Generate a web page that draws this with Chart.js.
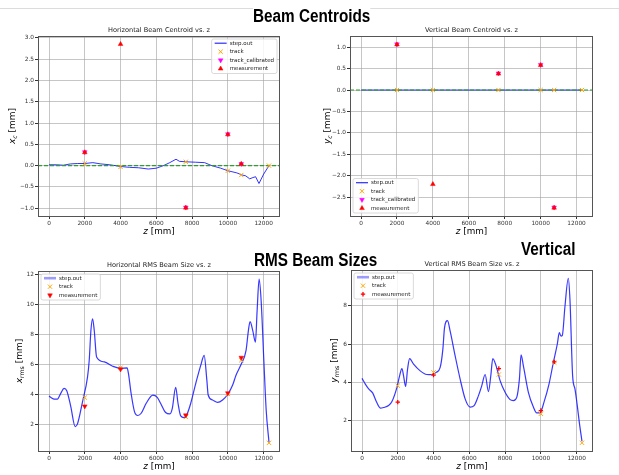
<!DOCTYPE html>
<html>
<head>
<meta charset="utf-8">
<script src="https://cdn.jsdelivr.net/npm/chart.js@4.4.0/dist/chart.umd.min.js"></script>
<style>
  html, body { margin: 0; padding: 0; background: #fff; }
  body { position: relative; width: 619px; height: 475px; overflow: hidden; }
  .rule { position: absolute; left: 0; top: 8px; width: 619px; height: 1px; background: #dcdcdc; }
  .head { position: absolute; font: bold 18px "Liberation Sans", Arial, sans-serif; line-height: 18px;
          white-space: nowrap; color: #000; transform: scaleX(0.85); transform-origin: 0 0; z-index: 2; }
  canvas { position: absolute; }
</style>
</head>
<body>
<div class="rule"></div>
<div class="head" style="left:253px;top:7px;background:#fff">Beam Centroids</div>
<div class="head" style="left:254px;top:251px">RMS Beam Sizes</div>
<div class="head" style="left:521px;top:240px">Vertical</div>
<canvas id="c1" width="290" height="216" style="left:0;top:22px"></canvas>
<canvas id="c2" width="291" height="216" style="left:312px;top:22px"></canvas>
<canvas id="c3" width="290" height="218" style="left:0;top:256px"></canvas>
<canvas id="c4" width="291" height="218" style="left:312px;top:256px"></canvas>
<script>
// shared axis ticks / probe positions (z in mm)
const zTicks = [0, 2000, 4000, 6000, 8000, 10000, 12000];
const trackZ = [2000, 4000, 7650, 10000, 10750, 12300];
const measZ = [2000, 4000, 7650, 10000, 10750];
const calZ = [2000, 7650, 10000, 10750];

// horizontal centroid
const xcStepZ = [0, 400, 800, 1200, 1600, 2000, 2450, 2900, 3400, 4000, 4500, 5000, 5550, 6000, 6400, 6750,
  7100, 7300, 7650, 8200, 8700, 9100, 9600, 10000, 10500, 10800, 11000, 11220, 11400, 11550, 11740, 12000, 12300];
const xcStep = [0.02, 0.02, 0.01, 0.04, 0.05, 0.05, 0.07, 0.04, 0.02, -0.02, -0.04, -0.05, -0.08, -0.06, 0.0, 0.07,
  0.15, 0.10, 0.09, 0.08, 0.07, 0.0, -0.06, -0.12, -0.17, -0.22, -0.24, -0.31, -0.28, -0.26, -0.42, -0.2, 0.0];
const xcTrack = [0.05, -0.03, 0.09, -0.12, -0.22, 0.0];
const xcCal = [0.32, -0.98, 0.74, 0.04];
const xcMeas = [0.31, 2.85, -0.99, 0.73, 0.04];
const xcTicks = [-1.0, -0.5, 0.0, 0.5, 1.0, 1.5, 2.0, 2.5, 3.0];

// vertical centroid
const ycStepZ = [0, 12300];
const ycStep = [0, 0];
const ycTrack = [0, 0, 0, 0, 0, 0];
const ycCal = [1.07, 0.39, 0.59, -2.74];
const ycMeas = [1.06, -2.2, 0.38, 0.58, -2.75];
const ycTicks = [-2.5, -2.0, -1.5, -1.0, -0.5, 0.0, 0.5, 1.0];

// horizontal rms
const xrStepZ = [0, 150, 281, 470, 656, 843, 993, 1218, 1462, 1593, 1874, 2155, 2249, 2343, 2436, 2530, 2661,
  3092, 3561, 4029, 4366, 4441, 4591, 4779, 4966, 5154, 5435, 5809, 6051, 6238, 6520, 6763, 6894, 7082, 7213,
  7363, 7550, 7700, 7925, 8206, 8487, 8675, 8825, 8900, 9143, 9424, 9705, 10005, 10268, 10455, 10736, 11017,
  11148, 11242, 11392, 11542, 11636, 11748, 11861, 12011, 12142, 12300];
const xrStep = [3.88, 3.75, 3.68, 3.68, 4.06, 4.39, 4.24, 3.18, 1.84, 2.02, 3.5, 5.17, 6.28, 8.27, 9.05, 8.27, 6.5,
  6.17, 5.88, 5.73, 5.77, 5.4, 4.06, 2.84, 2.58, 2.73, 3.4, 3.95, 3.8, 3.4, 2.78, 2.69, 3.06, 4.46, 3.4,
  2.55, 2.44, 2.62, 3.4, 4.73, 5.95, 6.61, 4.95, 3.95, 3.62, 3.46, 3.62, 4.02, 4.62, 5.28, 5.99, 6.94,
  8.27, 8.87, 8.27, 7.5, 9.6, 11.71, 10.27, 6.28, 2.95, 0.78];
const xrTrack = [3.78, 5.78, 2.48, 4.02, 6.28, 0.75];
const xrMeas = [3.2, 5.68, 2.6, 4.08, 6.46];
const xrTicks = [2, 4, 6, 8, 10, 12];

// vertical rms
const yrStepZ = [0, 186, 372, 595, 800, 1023, 1209, 1488, 1674, 1953, 2102, 2232, 2325, 2437, 2548, 2660, 2883,
  3255, 3627, 3906, 4148, 4371, 4520, 4613, 4780, 4929, 5208, 5487, 5766, 6045, 6268, 6512, 6698, 6884, 7070,
  7200, 7312, 7498, 7721, 8000, 8279, 8465, 8651, 8800, 8893, 9023, 9302, 9581, 9767, 9953, 10176, 10455,
  10697, 10920, 11032, 11125, 11200, 11348, 11534, 11627, 11776, 11906, 12036, 12148, 12297];
const yrStep = [4.21, 3.91, 3.66, 3.45, 3.0, 2.66, 2.69, 2.79, 3.0, 3.74, 4.34, 4.72, 4.34, 3.79, 4.69, 5.24, 4.95,
  4.6, 4.41, 4.4, 4.52, 4.78, 5.72, 6.84, 7.22, 6.67, 5.38, 4.17, 3.14, 2.71, 2.79, 3.31, 3.83, 4.41, 3.52,
  4.34, 5.24, 4.86, 4.09, 3.48, 3.1, 3.05, 3.22, 4.17, 5.43, 4.86, 3.48, 2.71, 2.41, 2.41, 2.97, 3.91,
  5.03, 6.0, 6.59, 6.41, 6.45, 7.97, 9.43, 8.31, 4.34, 3.66, 2.79, 1.93, 0.93];
const yrTrack = [3.83, 4.52, 4.41, 2.36, 5.03, 0.85];
const yrMeas = [2.97, 4.38, 4.72, 2.53, 5.07];
const yrTicks = [2, 4, 6, 8];

const FONT = '"DejaVu Sans", sans-serif';
const ORANGE = '#ffa500', MAGENTA = '#ff00ff', RED = '#ff0000';

function pts(zs, vs) { return zs.map((z, i) => ({ x: z, y: vs[i] })); }

function drawMarker(ctx, m, x, y) {
  const r = m.radius;
  ctx.save();
  ctx.strokeStyle = m.color; ctx.fillStyle = m.color; ctx.lineWidth = m.bw;
  ctx.beginPath();
  if (m.style === 'crossRot') {
    const d = r * Math.SQRT1_2;
    ctx.moveTo(x - d, y - d); ctx.lineTo(x + d, y + d);
    ctx.moveTo(x - d, y + d); ctx.lineTo(x + d, y - d);
    ctx.stroke();
  } else if (m.style === 'cross') {
    ctx.moveTo(x - r, y); ctx.lineTo(x + r, y);
    ctx.moveTo(x, y - r); ctx.lineTo(x, y + r);
    ctx.stroke();
  } else {
    let a = (m.rotation || 0) * Math.PI / 180;
    for (let k = 0; k < 3; k++) {
      const px = x + Math.sin(a) * r, py = y - Math.cos(a) * r;
      k ? ctx.lineTo(px, py) : ctx.moveTo(px, py);
      a += 2 * Math.PI / 3;
    }
    ctx.closePath(); ctx.fill(); ctx.stroke();
  }
  ctx.restore();
}

// text made of pieces (main letter, subscript, rest)
function drawPieces(ctx, parts, cx, cy) {
  const fontOf = p => (p.italic ? 'italic ' : '') + p.size + 'px ' + FONT;
  let total = 0;
  parts.forEach(p => { ctx.font = fontOf(p); p.w = ctx.measureText(p.t).width; total += p.w; });
  let x = cx - total / 2;
  ctx.textAlign = 'left'; ctx.textBaseline = 'middle'; ctx.fillStyle = '#000';
  parts.forEach(p => { ctx.font = fontOf(p); ctx.fillText(p.t, x, cy + (p.dy || 0)); x += p.w; });
}

const decor = {
  id: 'decor',
  afterDatasetDraw(chart, args, o) {
    if (!o.zeroLine || args.index !== 0) return;
    const { ctx, chartArea: a, scales: { y } } = chart;
    const py = y.getPixelForValue(0);
    ctx.save();
    ctx.strokeStyle = '#2ca02c'; ctx.lineWidth = 1.2; ctx.setLineDash([4, 2]);
    ctx.beginPath(); ctx.moveTo(a.left, py); ctx.lineTo(a.right, py); ctx.stroke();
    ctx.restore();
  },
  afterDraw(chart, args, o) {
    const { ctx, chartArea: a } = chart;
    ctx.save();
    // frame
    ctx.strokeStyle = '#555'; ctx.lineWidth = 1;
    ctx.strokeRect(Math.round(a.left) + 0.5, Math.round(a.top) + 0.5,
      Math.round(a.right - a.left) - 1, Math.round(a.bottom - a.top));
    // title
    ctx.fillStyle = '#222'; ctx.font = '6.6px ' + FONT;
    ctx.textAlign = 'center'; ctx.textBaseline = 'middle';
    ctx.fillText(o.title, (a.left + a.right) / 2, a.top - 5.5);
    // x label
    drawPieces(ctx, [{ t: 'z', italic: true, size: 8.8 }, { t: ' [mm]', size: 8.8 }],
      (a.left + a.right) / 2, a.bottom + 15.5);
    // y label
    ctx.save();
    ctx.translate(a.left - o.yTitleOff, (a.top + a.bottom) / 2);
    ctx.rotate(-Math.PI / 2);
    drawPieces(ctx, [{ t: o.yMain, italic: true, size: 9 },
      { t: o.ySub, italic: o.ySub === 'c', size: 6.2, dy: 2.2 }, { t: ' [mm]', size: 9 }], 0, 0);
    ctx.restore();
    // legend
    const ents = o.entries;
    ctx.font = '5.5px ' + FONT;
    const tw = Math.max(...ents.map(e => ctx.measureText(e.label).width));
    const w = 18 + tw + 3, h = ents.length * 8.5 + 0.5;
    let lx, ly;
    if (o.corner === 'tr') { lx = a.right - 3 - w; ly = a.top + 3; }
    else if (o.corner === 'bl') { lx = a.left + 3; ly = a.bottom - 3 - h; }
    else { lx = a.left + 3; ly = a.top + 3; }
    ctx.fillStyle = 'rgba(255,255,255,0.85)'; ctx.strokeStyle = '#d0d0d0'; ctx.lineWidth = 0.8;
    ctx.beginPath(); ctx.roundRect(lx, ly, w, h, 2); ctx.fill(); ctx.stroke();
    ents.forEach((e, i) => {
      const cy = ly + 4.2 + i * 8.5;
      if (e.line) {
        ctx.strokeStyle = e.line.color; ctx.lineWidth = e.line.width;
        ctx.beginPath(); ctx.moveTo(lx + 3, cy); ctx.lineTo(lx + 15, cy); ctx.stroke();
      } else {
        drawMarker(ctx, e.marker, lx + 9, cy);
      }
      ctx.fillStyle = '#222'; ctx.font = '5.5px ' + FONT;
      ctx.textAlign = 'left'; ctx.textBaseline = 'middle';
      ctx.fillText(e.label, lx + 18, cy);
    });
    ctx.restore();
  }
};

function makeChart(id, c) {
  const all = c.line.y.concat(...c.markers.map(m => m.y));
  const lo = Math.min(...all), hi = Math.max(...all), mg = (hi - lo) * 0.05;
  const datasets = [{
    label: 'step.out', data: pts(c.line.z, c.line.y), showLine: true, pointRadius: 0,
    borderColor: c.line.color, borderWidth: c.line.width, tension: 0,
    cubicInterpolationMode: c.line.smooth ? 'monotone' : 'default', order: 10
  }].concat(c.markers.map((m, i) => ({
    label: m.label, data: pts(m.z, m.y), showLine: false,
    pointStyle: m.style, pointRotation: m.rotation || 0, pointRadius: m.radius,
    backgroundColor: m.color, borderColor: m.color, borderWidth: m.bw, order: 5 - i
  })));
  const axisTicks = { color: '#333', font: { family: FONT, size: 5.8 }, padding: 1, maxRotation: 0, autoSkip: false };
  const grid = { color: 'rgba(160,160,160,0.6)', lineWidth: 1, tickLength: 3, tickColor: '#333', drawTicks: true };
  return new Chart(document.getElementById(id), {
    type: 'scatter',
    data: { datasets },
    options: {
      responsive: false, animation: false, events: [],
      layout: { padding: { left: 0, right: c.pad.right, top: c.pad.top, bottom: 0 } },
      scales: {
        x: {
          type: 'linear', min: -615, max: 12915, grid, border: { display: false },
          ticks: { ...axisTicks, callback: v => String(v) },
          afterBuildTicks: s => { s.ticks = zTicks.map(v => ({ value: v })); },
          afterFit: s => { s.height = c.xh; }
        },
        y: {
          type: 'linear', min: lo - mg, max: hi + mg, grid, border: { display: false },
          ticks: { ...axisTicks, callback: v => v.toFixed(c.yDec).replace('-', '\u2212') },
          afterBuildTicks: s => { s.ticks = c.yTicks.map(v => ({ value: v })); },
          afterFit: s => { s.width = c.yw; }
        }
      },
      plugins: {
        legend: { display: false }, tooltip: { enabled: false },
        decor: {
          title: c.title, yMain: c.yMain, ySub: c.ySub, yTitleOff: c.yTitleOff,
          zeroLine: !!c.zeroLine, corner: c.corner,
          entries: [{ label: 'step.out', line: c.line.legend }].concat(c.markers.map(m => ({ label: m.label, marker: m })))
        }
      }
    },
    plugins: [decor]
  });
}

const trackMk = (y) => ({ label: 'track', z: trackZ, y, style: 'crossRot', color: ORANGE, radius: 3, bw: 1 });

makeChart('c1', {
  title: 'Horizontal Beam Centroid vs. z', yMain: 'x', ySub: 'c', yTitleOff: 25,
  yTicks: xcTicks, yDec: 1, corner: 'tr', zeroLine: true,
  pad: { top: 14, right: 10 }, yw: 38, xh: 22,
  line: { z: xcStepZ, y: xcStep, color: 'rgba(0,0,255,0.8)', width: 1, legend: { color: '#2b2bff', width: 1.2 } },
  markers: [trackMk(xcTrack),
    { label: 'track_calibrated', z: calZ, y: xcCal, style: 'triangle', rotation: 180, color: MAGENTA, radius: 2.7, bw: 0.5 },
    { label: 'measurement', z: measZ, y: xcMeas, style: 'triangle', rotation: 0, color: RED, radius: 2.7, bw: 0.5 }]
});

makeChart('c2', {
  title: 'Vertical Beam Centroid vs. z', yMain: 'y', ySub: 'c', yTitleOff: 22,
  yTicks: ycTicks, yDec: 1, corner: 'bl', zeroLine: true,
  pad: { top: 14, right: 10 }, yw: 38, xh: 22,
  line: { z: ycStepZ, y: ycStep, color: 'rgba(0,0,255,0.8)', width: 1, legend: { color: '#2b2bff', width: 1.2 } },
  markers: [trackMk(ycTrack),
    { label: 'track_calibrated', z: calZ, y: ycCal, style: 'triangle', rotation: 180, color: MAGENTA, radius: 2.7, bw: 0.5 },
    { label: 'measurement', z: measZ, y: ycMeas, style: 'triangle', rotation: 0, color: RED, radius: 2.7, bw: 0.5 }]
});

makeChart('c3', {
  title: 'Horizontal RMS Beam Size vs. z', yMain: 'x', ySub: 'rms', yTitleOff: 18,
  yTicks: xrTicks, yDec: 0, corner: 'tl',
  pad: { top: 15, right: 10 }, yw: 38, xh: 23,
  line: { z: xrStepZ, y: xrStep, color: 'rgba(20,20,255,0.85)', width: 1.2, smooth: true, legend: { color: 'rgba(90,90,255,0.6)', width: 2.6 } },
  markers: [trackMk(xrTrack),
    { label: 'measurement', z: measZ, y: xrMeas, style: 'triangle', rotation: 180, color: RED, radius: 2.7, bw: 0.5 }]
});

makeChart('c4', {
  title: 'Vertical RMS Beam Size vs. z', yMain: 'y', ySub: 'rms', yTitleOff: 16,
  yTicks: yrTicks, yDec: 0, corner: 'tl',
  pad: { top: 14, right: 10 }, yw: 39, xh: 23,
  line: { z: yrStepZ, y: yrStep, color: 'rgba(20,20,255,0.85)', width: 1.2, smooth: true, legend: { color: 'rgba(90,90,255,0.6)', width: 2.6 } },
  markers: [trackMk(yrTrack),
    { label: 'measurement', z: measZ, y: yrMeas, style: 'cross', color: RED, radius: 2.2, bw: 1.3 }]
});
</script>
</body>
</html>
